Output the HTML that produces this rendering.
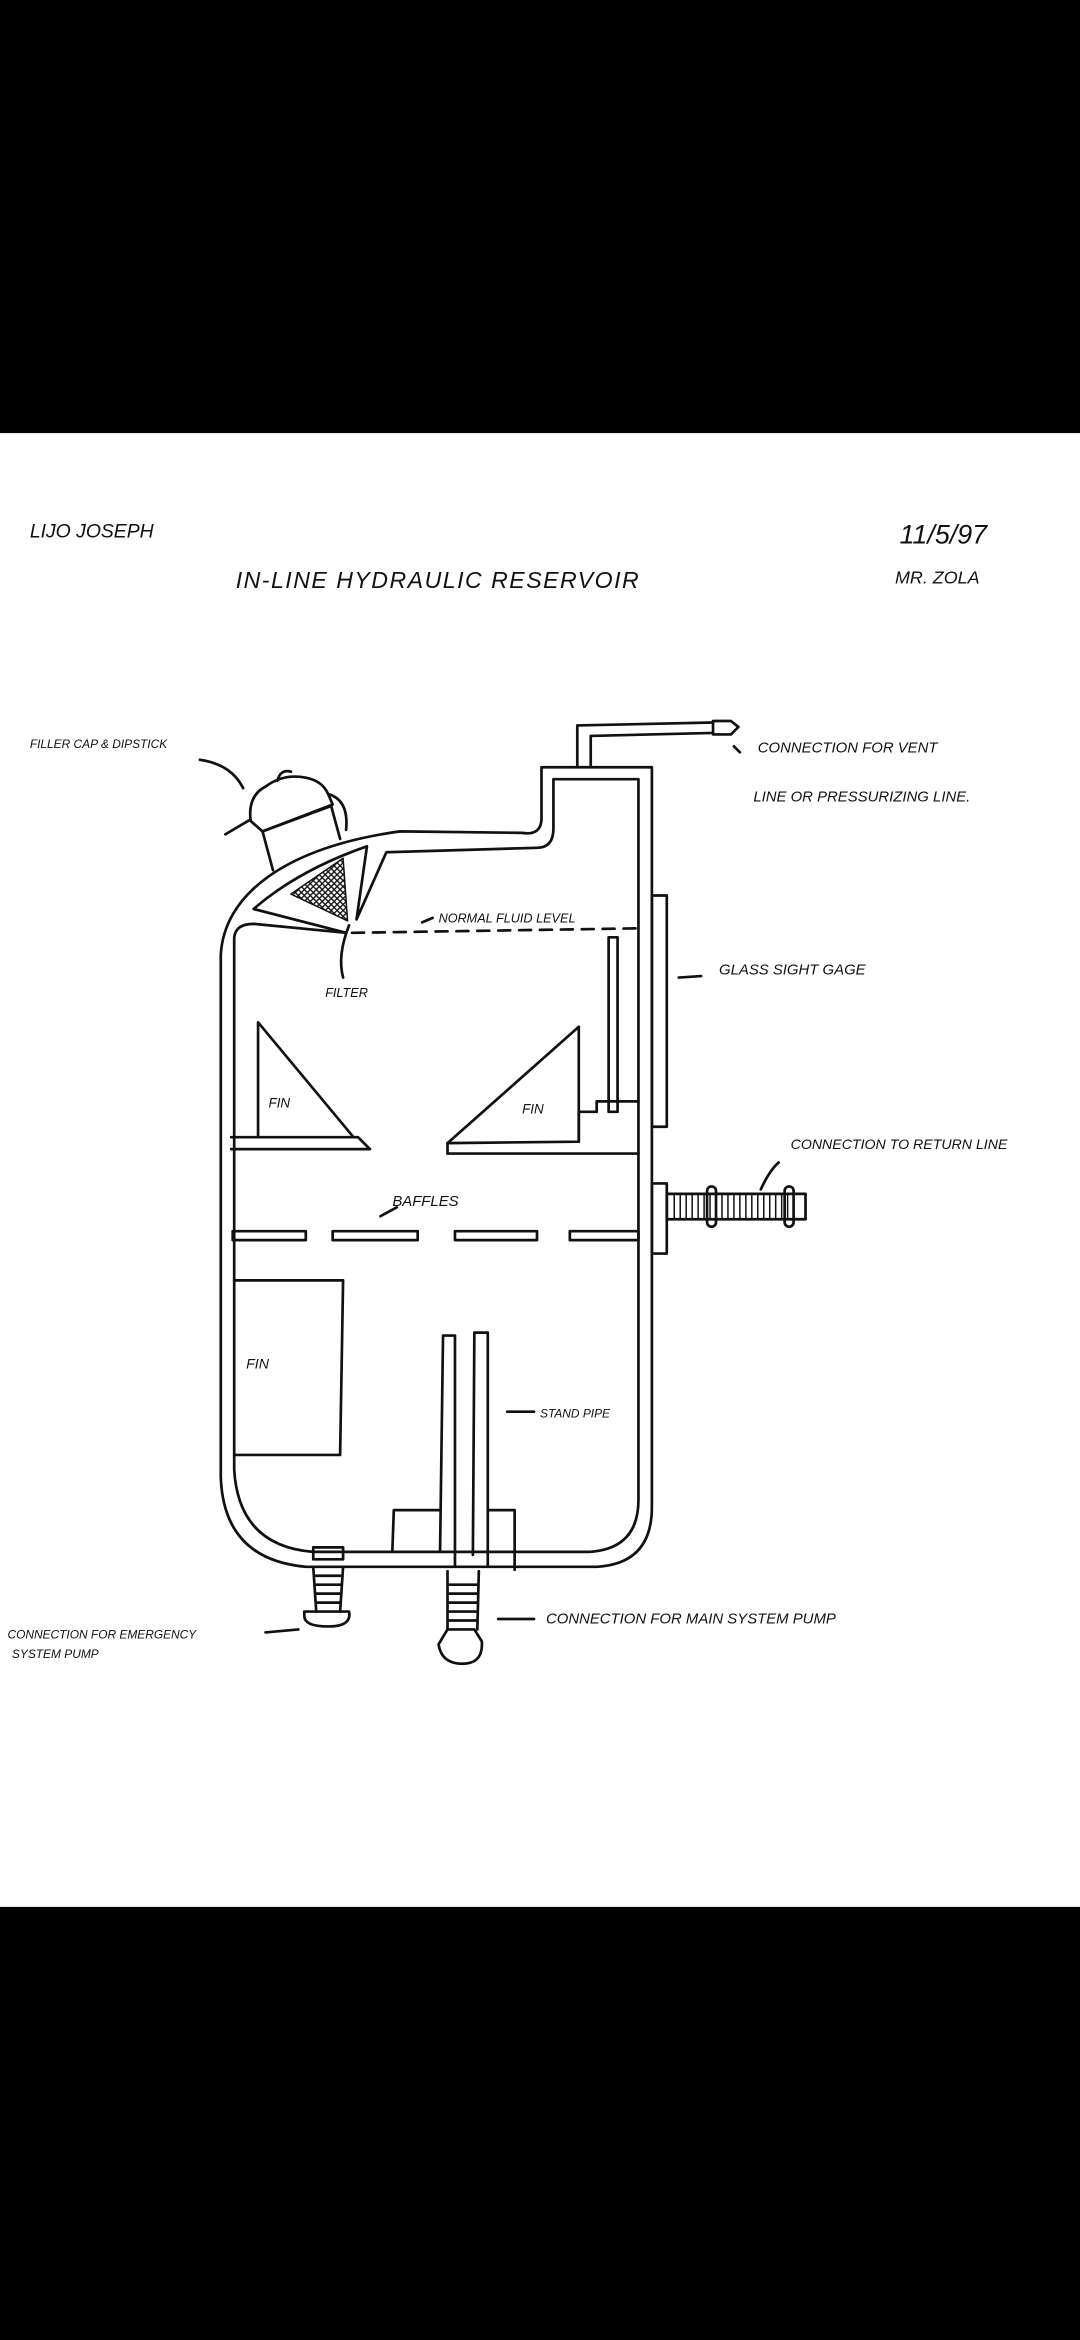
<!DOCTYPE html>
<html><head><meta charset="utf-8"><style>
html,body{margin:0;padding:0;background:#000;}
svg{display:block;}
text{font-family:"Liberation Sans",sans-serif;font-style:italic;fill:#111;}
</style></head><body>
<svg width="1080" height="2340" viewBox="0 0 724 1568" xmlns="http://www.w3.org/2000/svg">
<defs><pattern id="hatch" width="4" height="4" patternUnits="userSpaceOnUse"><path d="M0,0L4,4M4,0L0,4" stroke="#111" stroke-width="0.9"/></pattern></defs>
<rect x="0" y="0" width="724" height="1568" fill="#000"/>
<rect x="0" y="290" width="724" height="988" fill="#fff"/>
<g fill="none" stroke="#111" stroke-width="1.8" stroke-linejoin="round" stroke-linecap="round">
<path d="M437,514 L437,1010 Q437,1048 400,1050 L205,1050 Q150,1045 148,990 L148,640 C150,600 190,568 268,557 L350,558 Q363,560 363,548 L363,514 Z"/>
<path d="M371,522 L428,522 L428,1005 Q428,1038 395,1040 L210,1040 Q160,1036 157,985 L157,628 Q158,619 170,619 L232,625 L170,609 Q200,583 246,567 L239,616 L259,571 L360,568 Q371,568 371,555 Z"/>
<path d="M195,599 L230,575 L233,617 Z" fill="url(#hatch)" stroke-width="1"/>
<path d="M236,625 L428,622" stroke-dasharray="8,6"/>
<rect x="437" y="600" width="10" height="155"/>
<rect x="408" y="628" width="6" height="117"/>
<path d="M388,765 L388,745 L400,745 L400,738 L428,738"/>
<path d="M173,762 L173,685 L237,762"/>
<path d="M155,762 L240,762 L248,770 L155,770"/>
<path d="M388,688 L388,765 L300,766 L300,773 L428,773"/>
<path d="M388,688 L300,766"/>
<rect x="156" y="825" width="49" height="6"/>
<rect x="223" y="825" width="57" height="6"/>
<rect x="305" y="825" width="55" height="6"/>
<rect x="382" y="825" width="46" height="6"/>
<rect x="437" y="793" width="10" height="47"/>
<rect x="447" y="800" width="93" height="17"/>
<path d="M452,800v17M456,800v17M460,800v17M464,800v17M468,800v17M472,800v17M476,800v17M480,800v17M484,800v17M488,800v17M492,800v17M496,800v17M500,800v17M504,800v17M508,800v17M512,800v17M516,800v17M520,800v17M524,800v17M528,800v17M532,800v17" stroke-width="1"/>
<rect x="474" y="795" width="6" height="27" rx="3"/>
<rect x="526" y="795" width="6" height="27" rx="3"/>
<path d="M157,858 L230,858 L228,975 L157,975"/>
<path d="M297,895 L305,895 L305,1050 M297,895 L295,1040 M318,893 L327,893 L327,1050 M318,893 L317,1042"/>
<path d="M263,1040 L264,1012 L295,1012 M327,1012 L345,1012 L345,1052"/>
<rect x="210" y="1037" width="20" height="8"/>
<path d="M210,1050 L212,1080 M230,1050 L228,1080 M212,1056h16M212,1062h16M212,1068h16M212,1074h16"/>
<path d="M204,1083 Q204,1090 220,1090 Q236,1090 234,1080 L204,1080 Z"/>
<path d="M300,1053 L300,1092 M321,1053 L320,1092 M301,1062h19M301,1068h19M301,1074h19M301,1080h19M301,1086h19"/>
<path d="M294,1102 Q296,1115 310,1115 Q324,1115 323,1100 L318,1092 L300,1092 Z"/>
<path d="M387,514 L387,486 L478,484 M396,514 L396,493 L478,491"/>
<path d="M478,483 L490,483 L495,487 L490,492 L478,492 Z"/>
<!-- filler cap -->
<path d="M183,583 L176,557 L222,540 L228,562"/>
<path d="M168,550 Q166,533 178,527 Q190,518 205,521 Q216,523 220,532 L223,539 L176,557 Z"/>
<path d="M186,523 Q188,515 195,517"/>
<path d="M220,532 Q234,536 232,556"/>
<path d="M151,559 L168,549"/>
<path d="M134,509 Q155,512 163,528"/>
<path d="M234,620 Q226,640 230,655"/>
<path d="M290,615 L283,618"/>
<path d="M455,655 L470,654"/>
<path d="M510,797 Q516,784 522,779"/>
<path d="M255,815 L266,809"/>
<path d="M340,946 L358,946"/>
<path d="M334,1085 L358,1085"/>
<path d="M178,1094 L200,1092"/>
<path d="M492,500 L496,504"/>
</g>
<text x="20" y="360" font-size="13">LIJO JOSEPH</text>
<text x="158" y="394" font-size="15.5" letter-spacing="1">IN-LINE HYDRAULIC RESERVOIR</text>
<text x="603" y="364" font-size="18">11/5/97</text>
<text x="600" y="391" font-size="12">MR. ZOLA</text>
<text x="20" y="501" font-size="8">FILLER CAP &amp; DIPSTICK</text>
<text x="508" y="504" font-size="10">CONNECTION FOR VENT</text>
<text x="505" y="537" font-size="10">LINE OR PRESSURIZING LINE.</text>
<text x="294" y="618" font-size="8.5">NORMAL FLUID LEVEL</text>
<text x="218" y="668" font-size="8.5">FILTER</text>
<text x="482" y="653" font-size="10">GLASS SIGHT GAGE</text>
<text x="180" y="742" font-size="9">FIN</text>
<text x="350" y="746" font-size="9">FIN</text>
<text x="530" y="770" font-size="9.5">CONNECTION TO RETURN LINE</text>
<text x="263" y="808" font-size="10">BAFFLES</text>
<text x="165" y="917" font-size="9.5">FIN</text>
<text x="362" y="950" font-size="8">STAND PIPE</text>
<text x="366" y="1088" font-size="10">CONNECTION FOR MAIN SYSTEM PUMP</text>
<text x="5" y="1098" font-size="8">CONNECTION FOR EMERGENCY</text>
<text x="8" y="1111" font-size="8">SYSTEM PUMP</text>
</svg>
</body></html>
